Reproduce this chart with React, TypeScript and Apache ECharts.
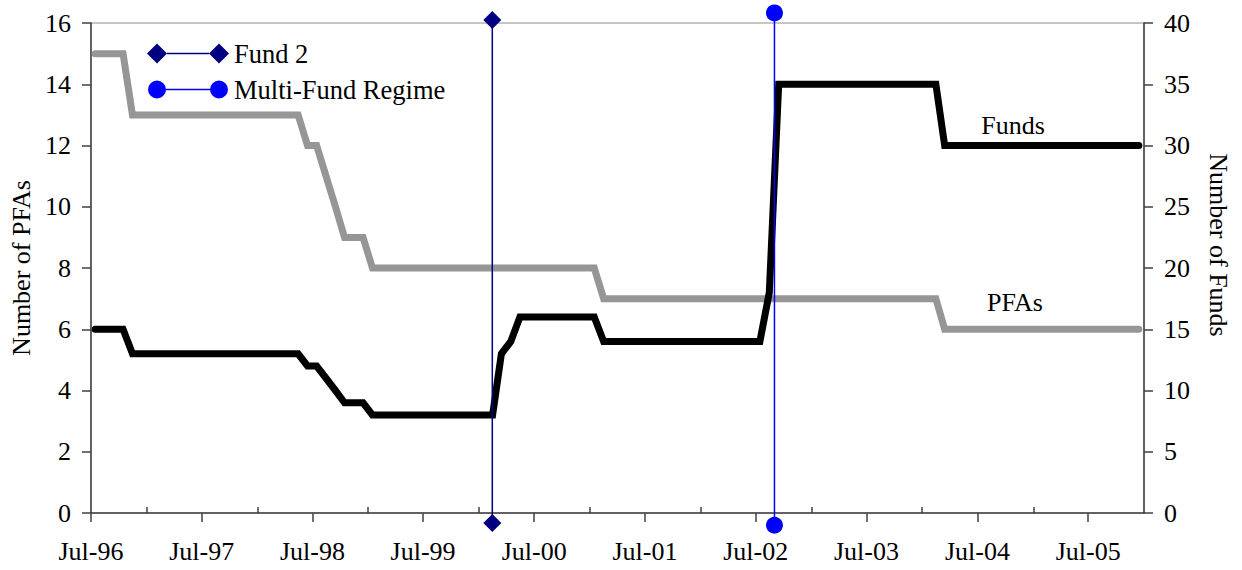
import React, { useEffect, useRef } from "react";
import * as echarts from "echarts";

const MONTH_NAMES = ["Jan", "Feb", "Mar", "Apr", "May", "Jun", "Jul", "Aug", "Sep", "Oct", "Nov", "Dec"];

// Monthly observations, Jul-96 .. Dec-05 (observations dated mid-month)
const FIRST_MONTH = "Jul-96";
const N_MONTHS = 114;
const AXIS_START = "Jul-96";
const AXIS_END = "Jan-06";

// Number of PFAs (left axis), one value per month from Jul-96
const pfaValues = [
  15, 15, 15, 15, 13, 13, 13, 13, 13, 13, 13, 13,
  13, 13, 13, 13, 13, 13, 13, 13, 13, 13, 13, 12,
  12, 11, 10, 9, 9, 9, 8, 8, 8, 8, 8, 8,
  8, 8, 8, 8, 8, 8, 8, 8, 8, 8, 8, 8,
  8, 8, 8, 8, 8, 8, 8, 7, 7, 7, 7, 7,
  7, 7, 7, 7, 7, 7, 7, 7, 7, 7, 7, 7,
  7, 7, 7, 7, 7, 7, 7, 7, 7, 7, 7, 7,
  7, 7, 7, 7, 7, 7, 7, 7, 6, 6, 6, 6,
  6, 6, 6, 6, 6, 6, 6, 6, 6, 6, 6, 6,
  6, 6, 6, 6, 6, 6,
];

// Number of Funds (right axis), one value per month from Jul-96
const fundValues = [
  15, 15, 15, 15, 13, 13, 13, 13, 13, 13, 13, 13,
  13, 13, 13, 13, 13, 13, 13, 13, 13, 13, 13, 12,
  12, 11, 10, 9, 9, 9, 8, 8, 8, 8, 8, 8,
  8, 8, 8, 8, 8, 8, 8, 8, 13, 14, 16, 16,
  16, 16, 16, 16, 16, 16, 16, 14, 14, 14, 14, 14,
  14, 14, 14, 14, 14, 14, 14, 14, 14, 14, 14, 14,
  14, 18, 35, 35, 35, 35, 35, 35, 35, 35, 35, 35,
  35, 35, 35, 35, 35, 35, 35, 35, 30, 30, 30, 30,
  30, 30, 30, 30, 30, 30, 30, 30, 30, 30, 30, 30,
  30, 30, 30, 30, 30, 30,
];

// Event markers (vertical lines), values on left axis scale
const fund2Date = [2000, 2, 14]; // year, month (1-based), day
const fund2Values = [-0.33, 16.1];
const multiFundDate = [2002, 9, 1];
const multiFundValues = [-0.4, 16.33];

// Axis tick labels
const yearTickLabels = ["Jul-96", "Jul-97", "Jul-98", "Jul-99", "Jul-00", "Jul-01", "Jul-02", "Jul-03", "Jul-04", "Jul-05"];
const halfYearTickLabels = ["Jan-97", "Jan-98", "Jan-99", "Jan-00", "Jan-01", "Jan-02", "Jan-03", "Jan-04", "Jan-05"];

const FONT = "'Liberation Serif', 'Times New Roman', serif";

function labelToTs(label: string, day: number): number {
  const [mon, yy] = label.split("-");
  const m = MONTH_NAMES.indexOf(mon);
  const y = Number(yy) < 50 ? 2000 + Number(yy) : 1900 + Number(yy);
  return Date.UTC(y, m, day);
}

function tsToLabel(v: number): string {
  const d = new Date(v);
  return MONTH_NAMES[d.getUTCMonth()] + "-" + String(d.getUTCFullYear() % 100).padStart(2, "0");
}

const monthLabels: string[] = [];
{
  const start = labelToTs(FIRST_MONTH, 1);
  const d0 = new Date(start);
  for (let i = 0; i < N_MONTHS; i++) {
    const d = new Date(Date.UTC(d0.getUTCFullYear(), d0.getUTCMonth() + i, 1));
    monthLabels.push(tsToLabel(d.getTime()));
  }
}

const diamondIcon =
  "path://M0,10L10,0L20,10L10,20Z M20,9.2L62,9.2L62,10.8L20,10.8Z M62,10L72,0L82,10L72,20Z";
const circleIcon =
  "path://M1,10A9,9 0 1 1 19,10A9,9 0 1 1 1,10Z M19,9.2L63,9.2L63,10.8L19,10.8Z M63,10A9,9 0 1 1 81,10A9,9 0 1 1 63,10Z M0,10L0,10.01L0.01,10Z M82,10L82,10.01L81.99,10Z M41,0L41,0.01L41.01,0Z M41,20L41,19.99L41.01,20Z";

export default function App() {
  const ref = useRef<HTMLDivElement>(null);

  useEffect(() => {
    if (!ref.current) return;
    const chart = echarts.init(ref.current, undefined, { renderer: "svg" });

    const monthTs = monthLabels.map((l) => labelToTs(l, 15));
    const pfaData = pfaValues.map((v, i) => [monthTs[i], v]);
    const fundData = fundValues.map((v, i) => [monthTs[i], v]);
    const f2ts = Date.UTC(fund2Date[0], fund2Date[1] - 1, fund2Date[2]);
    const mfts = Date.UTC(multiFundDate[0], multiFundDate[1] - 1, multiFundDate[2]);

    const xMin = labelToTs(AXIS_START, 1);
    const xMax = labelToTs(AXIS_END, 1);
    const yearTicks = yearTickLabels.map((l) => labelToTs(l, 1));
    const halfTicks = halfYearTickLabels.map((l) => labelToTs(l, 1));

    const axisColor = "#404040";
    const labelStyle = { fontFamily: FONT, fontSize: 26, color: "#000" };

    chart.setOption({
      animation: false,
      grid: {
        left: 87,
        right: 98,
        top: 23,
        bottom: 57,
        show: true,
        borderColor: "#8c8c8c",
        borderWidth: 1,
      },
      legend: {
        data: [
          { name: "Fund 2", icon: diamondIcon },
          { name: "Multi-Fund Regime", icon: circleIcon },
        ],
        orient: "vertical",
        left: 142,
        top: 35,
        itemWidth: 82,
        itemHeight: 20,
        itemGap: 9,
        itemStyle: { borderWidth: 0 },
        textStyle: { fontFamily: FONT, fontSize: 26.5, color: "#000" },
        selectedMode: false,
      },
      xAxis: [
        {
          type: "value",
          min: xMin,
          max: xMax,
          position: "bottom",
          splitLine: { show: false },
          axisLine: { show: true, onZero: false, lineStyle: { color: axisColor, width: 1.5 } },
          axisTick: {
            show: true,
            length: 9,
            customValues: yearTicks,
            lineStyle: { color: axisColor, width: 1.5 },
          },
          axisLabel: {
            ...labelStyle,
            customValues: yearTicks,
            margin: 25,
            formatter: (v: number) => tsToLabel(v),
          },
        },
        {
          type: "value",
          min: xMin,
          max: xMax,
          position: "bottom",
          splitLine: { show: false },
          axisLine: { show: false, onZero: false },
          axisTick: {
            show: true,
            inside: true,
            length: 6,
            customValues: halfTicks,
            lineStyle: { color: axisColor, width: 1.5 },
          },
          axisLabel: { show: false },
        },
      ],
      yAxis: [
        {
          type: "value",
          min: 0,
          max: 16,
          interval: 2,
          position: "left",
          splitLine: { show: false },
          axisLine: { show: true, lineStyle: { color: axisColor, width: 1.5 } },
          axisTick: { show: true, length: 9, lineStyle: { color: axisColor, width: 1.5 } },
          axisLabel: { ...labelStyle, margin: 20 },
          name: "Number of PFAs",
          nameLocation: "middle",
          nameGap: 45,
          nameTextStyle: { fontFamily: FONT, fontSize: 26, color: "#000" },
        },
        {
          type: "value",
          min: 0,
          max: 40,
          interval: 5,
          position: "right",
          splitLine: { show: false },
          axisLine: { show: true, lineStyle: { color: axisColor, width: 1.5 } },
          axisTick: { show: true, length: 9, lineStyle: { color: axisColor, width: 1.5 } },
          axisLabel: { ...labelStyle, margin: 20 },
          name: "Number of Funds",
          nameLocation: "middle",
          nameRotate: -90,
          nameGap: 61,
          nameTextStyle: { fontFamily: FONT, fontSize: 26, color: "#000", padding: [0, 46, 0, 0] },
        },
      ],
      series: [
        {
          name: "PFAs",
          type: "line",
          xAxisIndex: 0,
          yAxisIndex: 0,
          data: pfaData,
          symbol: "none",
          silent: true,
          z: 2,
          lineStyle: { color: "#969696", width: 7, cap: "round", join: "miter" },
        },
        {
          name: "Funds",
          type: "line",
          xAxisIndex: 0,
          yAxisIndex: 1,
          data: fundData,
          symbol: "none",
          silent: true,
          z: 3,
          lineStyle: { color: "#000000", width: 7, cap: "round", join: "miter" },
        },
        {
          name: "Fund 2",
          type: "line",
          xAxisIndex: 0,
          yAxisIndex: 0,
          data: fund2Values.map((v) => [f2ts, v]),
          symbol: "diamond",
          symbolSize: 18,
          clip: false,
          z: 5,
          itemStyle: { color: "#000080", borderWidth: 0 },
          lineStyle: { color: "#000080", width: 1.5 },
        },
        {
          name: "Multi-Fund Regime",
          type: "line",
          xAxisIndex: 0,
          yAxisIndex: 0,
          data: multiFundValues.map((v) => [mfts, v]),
          symbol: "circle",
          symbolSize: 17,
          clip: false,
          z: 5,
          itemStyle: { color: "#0000ff", borderWidth: 0 },
          lineStyle: { color: "#0000ff", width: 1.5 },
        },
      ],
      graphic: [
        {
          type: "text",
          x: 1013,
          y: 125,
          style: { text: "Funds", fontFamily: FONT, fontSize: 26, fill: "#000", align: "center", verticalAlign: "middle" },
        },
        {
          type: "text",
          x: 1015,
          y: 302,
          style: { text: "PFAs", fontFamily: FONT, fontSize: 26, fill: "#000", align: "center", verticalAlign: "middle" },
        },
      ],
    });

    return () => chart.dispose();
  }, []);

  return (
    <div
      ref={ref}
      style={{ position: "absolute", left: 0, top: 0, width: 1242, height: 570, background: "#fff" }}
    />
  );
}
